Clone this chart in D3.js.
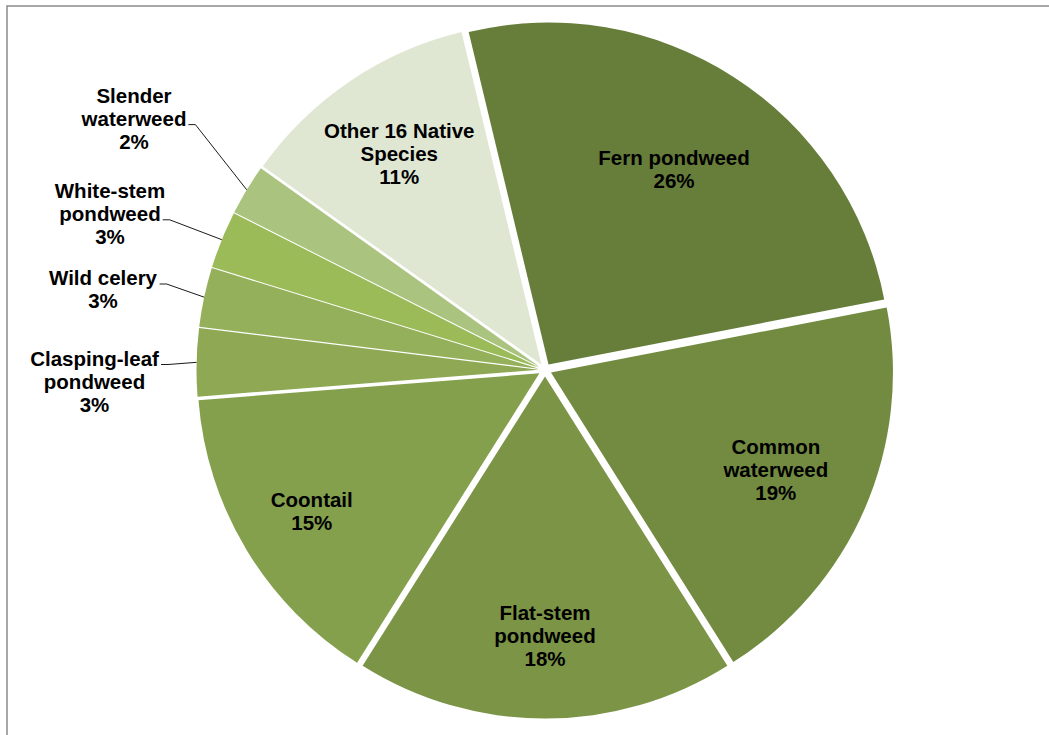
<!DOCTYPE html>
<html>
<head>
<meta charset="utf-8">
<script src="https://cdn.jsdelivr.net/npm/d3@7"></script>
<style>
  html, body { margin: 0; padding: 0; background: #fff; }
  svg { display: block; }
  text { font-family: "Liberation Sans", Arial, sans-serif; font-weight: bold; font-size: 20.5px; fill: #000; }
</style>
</head>
<body>
<svg id="chart" width="1049" height="735"></svg>
<script>
// Aquatic plant species share (% of total), clockwise from the top
const categories = [
  "Fern pondweed", "Common waterweed", "Flat-stem pondweed", "Coontail",
  "Clasping-leaf pondweed", "Wild celery", "White-stem pondweed",
  "Slender waterweed", "Other 16 Native Species"
];
const values = [25.7, 19.1, 17.9, 14.8, 3.2, 2.8, 2.7, 2.4, 11.4];
const sliceColors = [
  "#677d3a", "#728b40", "#7b9446", "#84a04c",
  "#8ea853", "#95b05a", "#9bbb59", "#aac37e", "#dfe7d3"
];

// ---- layout ----
const W = 1049, H = 735;
const cx = 545, cy = 370, R = 342;
const explode = 6.5;                       // every slice pulled out slightly
const startDeg = -13.5;                    // angle of the first slice
const lineH = 23;

// how each category label breaks into lines
const wrap = {
  "Fern pondweed": ["Fern pondweed"],
  "Common waterweed": ["Common", "waterweed"],
  "Flat-stem pondweed": ["Flat-stem", "pondweed"],
  "Coontail": ["Coontail"],
  "Clasping-leaf pondweed": ["Clasping-leaf", "pondweed"],
  "Wild celery": ["Wild celery"],
  "White-stem pondweed": ["White-stem", "pondweed"],
  "Slender waterweed": ["Slender", "waterweed"],
  "Other 16 Native Species": ["Other 16 Native", "Species"]
};
// labels sitting inside their slice: distance of the label centre from the pie centre
const insideRadius = {
  "Fern pondweed": 232, "Common waterweed": 245, "Flat-stem pondweed": 259,
  "Coontail": 266, "Other 16 Native Species": 254
};
// labels placed beside the pie with a leader line: block centre and the line the leader leaves from
const callout = {
  "Slender waterweed":      { x: 134,  y: 118.3, from: 1 },
  "White-stem pondweed":    { x: 110,  y: 213.5, from: 1 },
  "Wild celery":            { x: 103,  y: 289.2, from: 0 },
  "Clasping-leaf pondweed": { x: 94.5, y: 381.2, from: 0 }
};

const data = categories.map((c, i) => ({ name: c, value: values[i], color: sliceColors[i] }));
const total = d3.sum(values);
const pct = d => Math.round(d.value / total * 100) + "%";

const svg = d3.select("#chart");

// chart area frame
svg.append("rect")
  .attr("x", 7).attr("y", 6)
  .attr("width", W + 20).attr("height", H + 20)
  .attr("fill", "#fff")
  .attr("stroke", "#8a8a8a")
  .attr("stroke-width", 1.5);

const start = startDeg * Math.PI / 180;
const pie = d3.pie().sort(null).value(d => d.value)
  .startAngle(start).endAngle(start + 2 * Math.PI);
const arcs = pie(data);
const arc = d3.arc().innerRadius(0).outerRadius(R);

const mid = a => (a.startAngle + a.endAngle) / 2;
const polar = (ang, r) => [Math.sin(ang) * r, -Math.cos(ang) * r];

const g = svg.append("g").attr("transform", `translate(${cx},${cy})`);

g.selectAll("path.slice")
  .data(arcs)
  .join("path")
  .attr("class", "slice")
  .attr("d", arc)
  .attr("fill", d => d.data.color)
  .attr("transform", d => {
    const [ox, oy] = polar(mid(d), explode);
    return `translate(${ox},${oy})`;
  });

// text block centred on (x, y): lines stacked with fixed line height
function drawBlock(parent, lines, x, y) {
  const n = lines.length;
  const capH = 14.6;
  const firstBase = y - ((n - 1) * lineH + capH) / 2 + capH;
  const t = parent.append("text").attr("text-anchor", "middle");
  lines.forEach((s, i) => {
    t.append("tspan").attr("x", x).attr("y", firstBase + i * lineH).text(s);
  });
  return { text: t, firstBase };
}

arcs.forEach(a => {
  const name = a.data.name;
  const lines = wrap[name].concat([pct(a.data)]);
  const m = mid(a);
  if (insideRadius[name] !== undefined) {
    const [x, y] = polar(m, insideRadius[name] + explode);
    drawBlock(g, lines, x, y);
  } else {
    const c = callout[name];
    const bx = c.x - cx, by = c.y - cy;
    const blk = drawBlock(g, lines, bx, by);
    // leader: from the end of the chosen line, short horizontal run, then to the slice edge
    const tsp = blk.text.selectAll("tspan").nodes()[c.from];
    const bb = tsp.getBBox();
    const ly = blk.firstBase + c.from * lineH - 1;
    const x0 = bb.x + bb.width + 2;
    const [ex, ey] = polar(m, R + explode);
    g.append("path")
      .attr("d", d3.line()([[x0, ly], [x0 + 7, ly], [ex, ey]]))
      .attr("fill", "none")
      .attr("stroke", "#000")
      .attr("stroke-width", 0.9);
  }
});
</script>
</body>
</html>
